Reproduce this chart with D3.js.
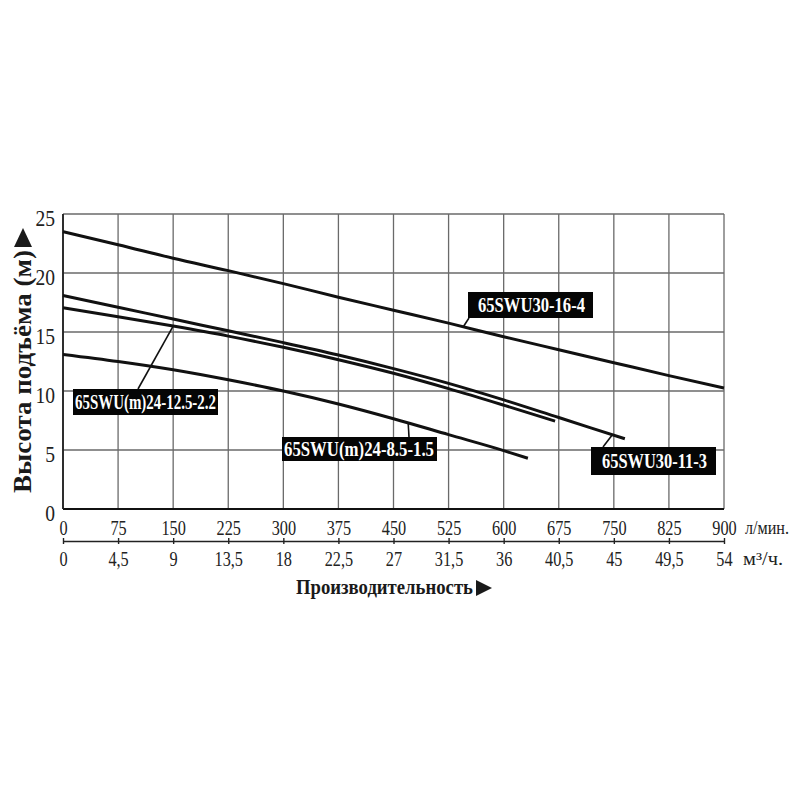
<!DOCTYPE html>
<html lang="ru">
<head>
<meta charset="UTF-8">
<title>Pump curves</title>
<script src="https://d3js.org/d3.v7.min.js"></script>
<style>
  body { margin: 0; background: #fff; }
  text { font-family: "Liberation Serif", "DejaVu Serif", serif; }
</style>
</head>
<body>
<svg class="chart"></svg>
<script>
// flow, l/min  /  head, m
const q16_4 = [0, 75, 150, 225, 300, 375, 450, 525, 600, 675, 750, 825, 900];
const h16_4 = [23.5, 22.4, 21.25, 20.2, 19.1, 17.95, 16.85, 15.75, 14.6, 13.5, 12.4, 11.3, 10.25];
const q11_3 = [0, 75, 150, 225, 300, 375, 450, 525, 600, 675, 765];
const h11_3 = [18.1, 17.1, 16.1, 15.1, 14.1, 13.05, 11.9, 10.65, 9.25, 7.75, 5.95];
const q12_5 = [0, 75, 150, 225, 300, 375, 450, 525, 600, 670];
const h12_5 = [17.05, 16.3, 15.5, 14.65, 13.7, 12.65, 11.5, 10.2, 8.8, 7.45];
const q8_5 = [0, 75, 150, 225, 300, 375, 450, 525, 600, 633];
const h8_5 = [13.1, 12.5, 11.8, 10.95, 10.0, 8.9, 7.65, 6.3, 4.95, 4.3];

const seriesNames = ["65SWU30-16-4", "65SWU30-11-3", "65SWU(m)24-12.5-2.2", "65SWU(m)24-8.5-1.5"];
const lpmTicks = [0, 75, 150, 225, 300, 375, 450, 525, 600, 675, 750, 825, 900];
const m3hTicks = [0, 4.5, 9, 13.5, 18, 22.5, 27, 31.5, 36, 40.5, 45, 49.5, 54];
const headTicks = [0, 5, 10, 15, 20, 25];

const W = 800, H = 800;
const svg = d3.select(".chart").attr("width", W).attr("height", H)
  .attr("viewBox", `0 0 ${W} ${H}`);

const x = d3.scaleLinear().domain([0, 900]).range([63, 724]);
const x2 = d3.scaleLinear().domain([0, 54]).range([63, 724]);
const y = d3.scaleLinear().domain([0, 25]).range([509, 214]);

// сетка
const grid = svg.append("g").attr("stroke", "#6a6a6a").attr("stroke-width", 1.3);
grid.selectAll("line.v").data(lpmTicks).join("line")
  .attr("x1", d => x(d)).attr("x2", d => x(d))
  .attr("y1", y(25)).attr("y2", y(0));
grid.selectAll("line.h").data(headTicks).join("line")
  .attr("x1", x(0)).attr("x2", x(900))
  .attr("y1", d => y(d)).attr("y2", d => y(d));

// оси
svg.append("line").attr("x1", x(0)).attr("x2", x(900)).attr("y1", y(0)).attr("y2", y(0))
  .attr("stroke", "#111").attr("stroke-width", 2.2);
svg.append("line").attr("x1", x(0)).attr("x2", x(0)).attr("y1", y(25)).attr("y2", y(0))
  .attr("stroke", "#222").attr("stroke-width", 1.8);

// ось л/мин
const ax1 = svg.append("g").attr("transform", `translate(0,${y(0)})`)
  .call(d3.axisBottom(x).tickValues(lpmTicks).tickSize(0));
ax1.select(".domain").remove();
ax1.selectAll("text").attr("y", 0).attr("dy", null)
  .attr("transform", "translate(0,26) scale(0.74,1)")
  .attr("font-size", 22).attr("font-family", "Liberation Serif").attr("fill", "#222");

// ось м3/ч
const ax2 = svg.append("g").attr("transform", "translate(0,541)")
  .call(d3.axisBottom(x2).tickValues(m3hTicks).tickSizeOuter(0)
    .tickFormat(d => String(d).replace(".", ",")));
ax2.select(".domain").attr("stroke", "#222").attr("stroke-width", 1.6);
ax2.selectAll(".tick line").attr("y1", -3).attr("y2", 3).attr("stroke", "#222").attr("stroke-width", 1.4);
ax2.selectAll("text").attr("y", 0).attr("dy", null)
  .attr("transform", "translate(0,25) scale(0.74,1)")
  .attr("font-size", 22).attr("font-family", "Liberation Serif").attr("fill", "#222");

// ось напора
const ay = svg.append("g").attr("transform", `translate(${x(0)},0)`)
  .call(d3.axisLeft(y).tickValues(headTicks).tickSize(0));
ay.select(".domain").remove();
ay.selectAll("text").attr("x", 0).attr("dy", null)
  .attr("transform", "translate(-8,11) scale(0.85,1)")
  .attr("font-size", 23).attr("font-family", "Liberation Serif").attr("fill", "#222");

// единицы
svg.append("text").attr("x", 745).attr("y", 534).attr("font-size", 18)
  .attr("textLength", 44).attr("lengthAdjust", "spacingAndGlyphs").attr("fill", "#222").text("л/мин.");
svg.append("text").attr("x", 743).attr("y", 565).attr("font-size", 18)
  .attr("textLength", 40).attr("lengthAdjust", "spacingAndGlyphs").attr("fill", "#222").text("м³/ч.");

// подписи осей
svg.append("text").attr("x", 296).attr("y", 594).attr("font-size", 21).attr("font-weight", "bold")
  .attr("textLength", 177).attr("lengthAdjust", "spacingAndGlyphs").attr("fill", "#1a1a1a")
  .text("Производительность");
svg.append("path").attr("d", "M476,580 L492,588 L476,596 Z").attr("fill", "#1a1a1a");

svg.append("text").attr("transform", "translate(31,493) rotate(-90)")
  .attr("font-size", 26).attr("font-weight", "bold")
  .attr("textLength", 243).attr("lengthAdjust", "spacingAndGlyphs").attr("fill", "#1a1a1a")
  .text("Высота подъёма (м)");
svg.append("path").attr("d", "M14,247 L23,228 L32,247 Z").attr("fill", "#1a1a1a");

// кривые
const series = [
  { name: seriesNames[0], q: q16_4, h: h16_4 },
  { name: seriesNames[1], q: q11_3, h: h11_3 },
  { name: seriesNames[2], q: q12_5, h: h12_5 },
  { name: seriesNames[3], q: q8_5, h: h8_5 }
];
const line = d3.line().x(d => x(d[0])).y(d => y(d[1])).curve(d3.curveMonotoneX);
svg.append("g").selectAll("path").data(series).join("path")
  .attr("d", s => line(d3.zip(s.q, s.h)))
  .attr("fill", "none").attr("stroke", "#111").attr("stroke-width", 3);

// подписи кривых: рамка (px) и точка выноски на кривой (л/мин)
const labels = [
  { s: 0, box: [468, 292, 125, 26], text: [478, 107], from: [469, 318], at: 545 },
  { s: 1, box: [591, 447, 125, 28], text: [602, 105], from: [603, 447], at: 748 },
  { s: 2, box: [73, 389, 145, 26], text: [75, 141], from: [138, 389], at: 150 },
  { s: 3, box: [282, 437, 155, 24], text: [284, 150], from: [409, 437], at: 470 }
];
const headAt = (s, q) => {
  const i = d3.bisectRight(s.q, q) - 1;
  const t = (q - s.q[i]) / (s.q[i + 1] - s.q[i]);
  return s.h[i] + t * (s.h[i + 1] - s.h[i]);
};
const lg = svg.append("g");
labels.forEach(l => {
  const s = series[l.s];
  lg.append("line").attr("x1", l.from[0]).attr("y1", l.from[1])
    .attr("x2", x(l.at)).attr("y2", y(headAt(s, l.at)))
    .attr("stroke", "#111").attr("stroke-width", 1.6);
  lg.append("rect").attr("x", l.box[0]).attr("y", l.box[1])
    .attr("width", l.box[2]).attr("height", l.box[3]).attr("fill", "#050505");
  lg.append("text").attr("x", l.text[0]).attr("y", l.box[1] + l.box[3] / 2 + 7)
    .attr("font-size", 21).attr("font-weight", "bold").attr("fill", "#fff")
    .attr("textLength", l.text[1]).attr("lengthAdjust", "spacingAndGlyphs")
    .text(s.name);
});
</script>
</body>
</html>
